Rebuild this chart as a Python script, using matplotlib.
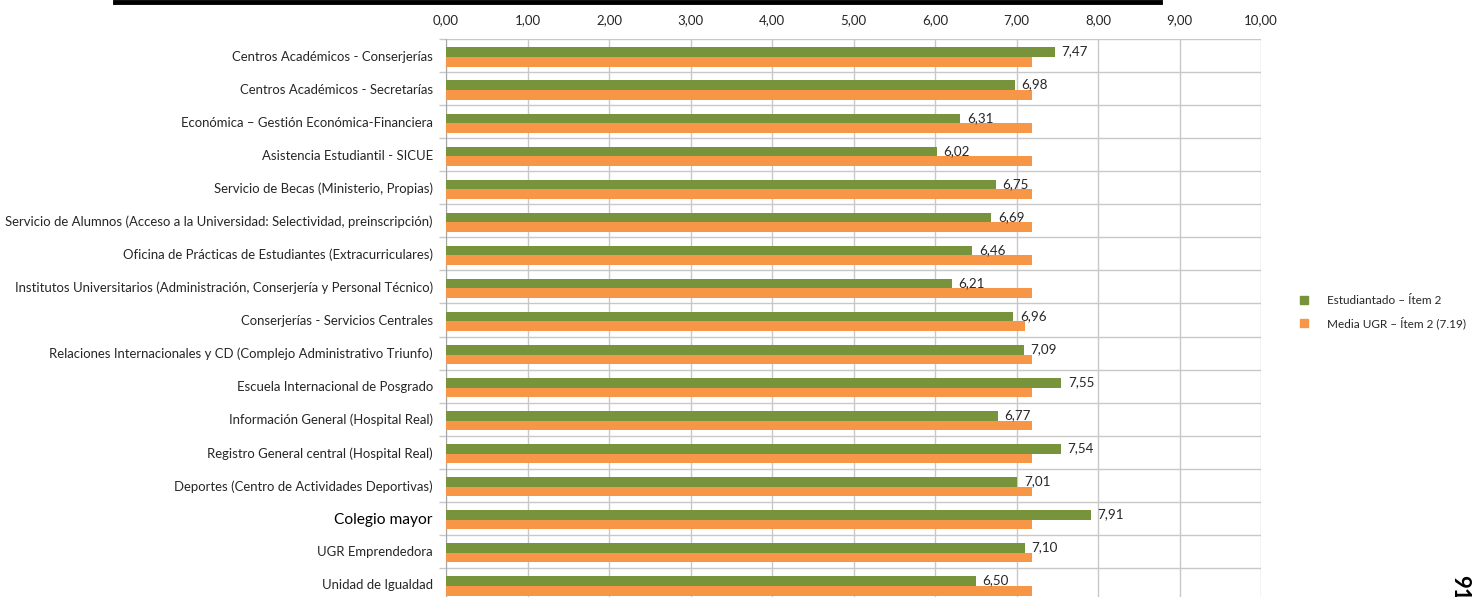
import matplotlib
matplotlib.use("Agg")
import matplotlib.pyplot as plt
from matplotlib.lines import Line2D
from matplotlib.ticker import FuncFormatter, FixedLocator
import numpy as np

categories = [
    "Centros Académicos - Conserjerías",
    "Centros Académicos - Secretarías",
    "Económica – Gestión Económica-Financiera",
    "Asistencia Estudiantil - SICUE",
    "Servicio de Becas (Ministerio, Propias)",
    "Servicio de Alumnos (Acceso a la Universidad: Selectividad, preinscripción)",
    "Oficina de Prácticas de Estudiantes (Extracurriculares)",
    "Institutos Universitarios (Administración, Conserjería y Personal Técnico)",
    "Conserjerías - Servicios Centrales",
    "Relaciones Internacionales y CD (Complejo Administrativo Triunfo)",
    "Escuela Internacional de Posgrado",
    "Información General (Hospital Real)",
    "Registro General central (Hospital Real)",
    "Deportes (Centro de Actividades Deportivas)",
    "Colegio mayor",
    "UGR Emprendedora",
    "Unidad de Igualdad",
]
estudiantado = [7.47, 6.98, 6.31, 6.02, 6.75, 6.69, 6.46, 6.21, 6.96, 7.09,
                7.55, 6.77, 7.54, 7.01, 7.91, 7.10, 6.50]
media_ugr = [7.19, 7.19, 7.19, 7.19, 7.19, 7.19, 7.19, 7.19, 7.10, 7.19,
             7.19, 7.19, 7.19, 7.19, 7.19, 7.19, 7.19]
series_names = ["Estudiantado – Ítem 2", "Media UGR – Ítem 2 (7.19)"]
x_ticks = [0, 1, 2, 3, 4, 5, 6, 7, 8, 9, 10]

GREEN = "#77933C"
ORANGE = "#F79646"
GRID = "#C8C8C8"
TEXT = "#262626"
FONT = ["Lato", "DejaVu Sans"]

plt.rcParams["font.family"] = FONT


def comma(v):
    return f"{v:.2f}".replace(".", ",")


W, H = 1473, 597
fig = plt.figure(figsize=(W / 100, H / 100), dpi=100)
ax_left, ax_right = 446 / W, 1261 / W
ax_top, ax_bottom = 1 - 39 / H, 1 - 601 / H
ax = fig.add_axes([ax_left, ax_bottom, ax_right - ax_left, ax_top - ax_bottom])

y = np.arange(len(categories))
bh = 0.29
g_off, o_off = -0.10, 0.19
ax.barh(y + g_off, estudiantado, height=bh, color=GREEN, zorder=3,
        label=series_names[0])
ax.barh(y + o_off, media_ugr, height=bh, color=ORANGE, zorder=3,
        label=series_names[1])

for yi, v in zip(y, estudiantado):
    ax.text(v + 0.08, yi + g_off - 0.02, comma(v), va="center",
            ha="left", fontsize=9.6, color=TEXT, zorder=4)

ax.set_xlim(0, 10)
ax.set_ylim(len(categories) - 0.5, -0.5)
ax.xaxis.set_major_locator(FixedLocator(x_ticks))
ax.xaxis.set_major_formatter(FuncFormatter(lambda v, p: comma(v)))
ax.xaxis.tick_top()
ax.tick_params(axis="x", length=0, pad=9, labelsize=9.5, labelcolor=TEXT)

ax.set_yticks(y)
ax.set_yticklabels(categories)
ax.yaxis.set_minor_locator(FixedLocator(np.arange(-0.5, len(categories), 1)))
ax.tick_params(axis="y", which="major", length=0, pad=9.5, labelsize=9.45,
               labelcolor=TEXT)
ax.tick_params(axis="y", which="minor", length=5, color=GRID, width=1)
for lbl in ax.get_yticklabels():
    if lbl.get_text() == "Colegio mayor":
        lbl.set_fontsize(11.2)
        lbl.set_color("black")

ax.grid(axis="x", which="major", color=GRID, linewidth=1, zorder=0)
ax.grid(axis="y", which="minor", color=GRID, linewidth=1, zorder=0)
ax.grid(axis="y", which="major", visible=False)
for side in ["top", "right", "bottom"]:
    ax.spines[side].set_visible(False)
ax.spines["left"].set_color("#A6A6A6")
ax.set_axisbelow(True)

# legend at the right
handles = [
    Line2D([], [], marker="s", linestyle="none", markersize=5.5,
           markerfacecolor=GREEN, markeredgecolor=GREEN),
    Line2D([], [], marker="s", linestyle="none", markersize=5.5,
           markerfacecolor=ORANGE, markeredgecolor=ORANGE),
]
fig.legend(handles, series_names, loc="center left",
           bbox_to_anchor=(1293 / W, 1 - 312 / H), frameon=False,
           fontsize=8.5, handlelength=1.0, handletextpad=1.45,
           labelspacing=0.9, labelcolor=TEXT, borderaxespad=0)

# heading rule and page number
fig.add_artist(Line2D([115 / W, 1160 / W], [1 - 1.5 / H, 1 - 1.5 / H],
                      color="black", linewidth=3.5))
fig.text(1460 / W, 1 - 601 / H, "91", rotation=-90, fontsize=16,
         fontweight="bold", ha="center", va="bottom", color="black")

fig.savefig("out.png", dpi=100)
